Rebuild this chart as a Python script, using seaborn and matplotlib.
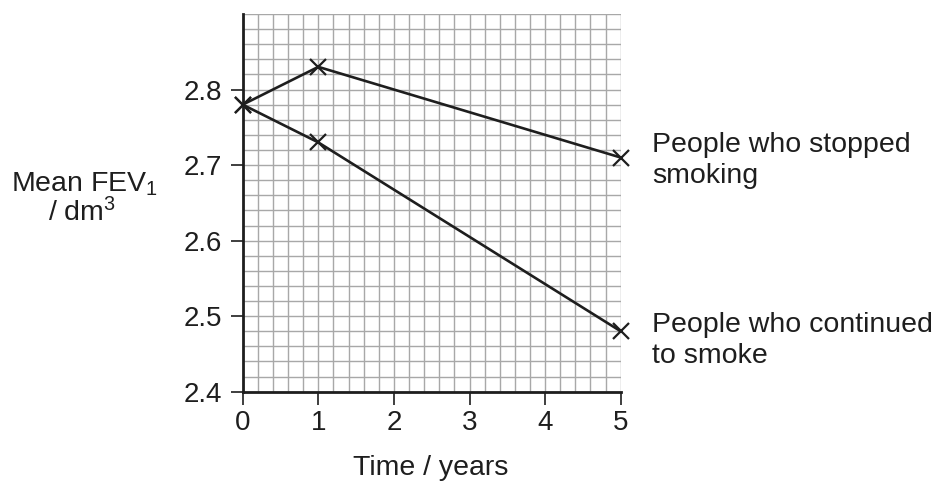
import matplotlib
matplotlib.use("Agg")
import matplotlib.pyplot as plt
import seaborn as sns
import pandas as pd
from matplotlib.ticker import MultipleLocator

sns.set_style("white")
plt.rcParams['font.family'] = ['Liberation Sans', 'DejaVu Sans']
plt.rcParams['mathtext.fontset'] = 'custom'
plt.rcParams['mathtext.rm'] = 'Liberation Sans'
plt.rcParams['mathtext.it'] = 'Liberation Sans'

time = [0, 1, 5]
stopped = [2.78, 2.83, 2.71]
continued = [2.78, 2.73, 2.48]
x_ticks = [0, 1, 2, 3, 4, 5]
y_ticks = [2.4, 2.5, 2.6, 2.7, 2.8]

df = pd.concat([
    pd.DataFrame({"time": time, "fev": stopped, "group": "stopped"}),
    pd.DataFrame({"time": time, "fev": continued, "group": "continued"}),
])

W, H = 942, 484
fig = plt.figure(figsize=(W / 100, H / 100), dpi=100)
ax = fig.add_axes([242.7 / W, 1 - 391.7 / H, 378 / W, (391.7 - 14) / H])

ink = "#1e1e1e"
sns.lineplot(data=df, x="time", y="fev", units="group", estimator=None,
             color=ink, linewidth=1.9, marker="x", markersize=11,
             markeredgewidth=1.6, markeredgecolor=ink, ax=ax, zorder=5,
             clip_on=False)

ax.set_xlim(0, 5)
ax.set_ylim(2.4, 2.9)
ax.set_xticks(x_ticks)
ax.set_yticks(y_ticks)
ax.set_xticklabels([str(v) for v in x_ticks])
ax.set_yticklabels([f"{v:.1f}" for v in y_ticks])
ax.xaxis.set_minor_locator(MultipleLocator(0.2))
ax.yaxis.set_minor_locator(MultipleLocator(0.02))
ax.grid(True, which="both", color="#a8a8a8", linewidth=1.0)
ax.set_axisbelow(True)
ax.tick_params(axis="both", which="major", direction="out", length=9, width=1.2,
               labelsize=20, color=ink, labelcolor=ink, left=True, bottom=True)
ax.tick_params(axis="y", which="major", pad=6)
ax.tick_params(axis="x", which="major", pad=4)
ax.tick_params(axis="both", which="minor", length=0)
for s in ["top", "right"]:
    ax.spines[s].set_visible(False)
for s in ["left", "bottom"]:
    ax.spines[s].set_color(ink)
    ax.spines[s].set_linewidth(2.0)
    ax.spines[s].set_zorder(6)

ax.set_xlabel("")
ax.set_ylabel("")

def ftext(x, y, s, size=20.5, **kw):
    fig.text(x / W, 1 - y / H, s, fontsize=size, color=ink, va="baseline", **kw)

ftext(431, 475, "Time / years", ha="center")
ftext(85, 191, "Mean FEV$_1$", ha="center")
ftext(82, 221, "/ dm$^3$", ha="center")
ftext(652, 151.7, "People who stopped", ha="left")
ftext(652, 183, "smoking", ha="left")
ftext(652, 331.7, "People who continued", ha="left")
ftext(652, 363.3, "to smoke", ha="left")

fig.savefig("out.png", dpi=100)
